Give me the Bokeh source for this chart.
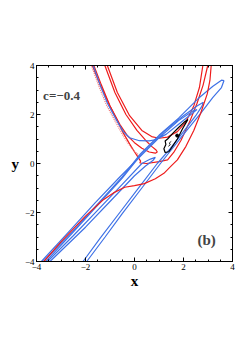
from bokeh.plotting import figure
from bokeh.models import LinearAxis, SingleIntervalTicker, Label
from bokeh.embed import file_html
from bokeh.resources import INLINE

# ---- data (data coordinates) ----
red_c1_x = [-3.7, -3.0, -2.0, -1.3, -0.86, -0.4, 0.0, 0.4, 0.85, 1.2, 1.5, 1.75, 2.1, 2.42, 2.7, 2.97, 3.08, 3.13]
red_c1_y = [-4.0, -3.2, -2.15, -1.5, -1.2, -0.97, -0.9, -0.82, -0.62, -0.4, -0.1, 0.15, 0.7, 1.35, 2.05, 2.84, 3.4, 4.0]

red_c2_x = [-1.11, -0.7, -0.2, 0.3, 0.7, 1.0, 1.35, 1.75, 2.1, 2.42, 2.65, 2.79]
red_c2_y = [4.0, 2.9, 1.95, 1.35, 1.1, 1.03, 1.08, 1.3, 1.7, 2.35, 3.1, 4.0]

red_c3_x = [-1.21, -0.8, -0.35, 0.1, 0.45, 0.7, 0.88, 0.93, 0.85, 0.6, 0.3, 0.0, -0.3, -0.6, -1.0, -1.4, -1.72]
red_c3_y = [4.0, 2.9, 2.0, 1.35, 0.95, 0.7, 0.55, 0.47, 0.42, 0.47, 0.62, 0.85, 1.15, 1.6, 2.35, 3.2, 4.0]

red_c5_x = [-1.66, -1.35, -1.0, -0.7, -0.46, -0.2, 0.05, 0.25, 0.22, 0.5, 1.0, 1.35, 1.6, 1.9, 2.25, 2.55, 2.8, 2.99]
red_c5_y = [4.0, 3.2, 2.35, 1.75, 1.25, 0.8, 0.4, 0.1, 0.02, 0.0, 0.08, 0.15, 0.45, 0.95, 1.7, 2.45, 3.2, 4.0]

red_c6_x = [-1.76, -1.45, -1.15, -0.8, -0.5, -0.25, 0.0, 0.2]
red_c6_y = [4.0, 3.15, 2.4, 1.75, 1.2, 0.8, 0.5, 0.32]

blue_b1_x = [-1.69, -1.4, -1.1, -0.75, -0.46, -0.2, 0.2, 0.6, 0.9, 1.3, 1.8, 2.3, 2.55, 2.4, 1.8, 1.0, 0.3, -0.6, -1.6, -2.6, -3.8]
blue_b1_y = [4.0, 3.2, 2.45, 1.8, 1.3, 1.05, 0.93, 0.92, 0.98, 1.2, 1.6, 2.0, 2.2, 2.15, 1.75, 1.05, 0.35, -0.55, -1.6, -2.7, -4.0]

blue_b2_x = [-3.72, -2.5, -1.5, -0.5, 0.25, 1.0, 1.8, 2.6, 3.2, 3.55, 3.65, 3.55, 3.2, 2.7, 2.05, 1.06, 0.3, -0.5, -1.2, -1.95]
blue_b2_y = [-4.0, -2.75, -1.65, -0.55, 0.4, 1.15, 1.85, 2.65, 3.15, 3.4, 3.38, 3.1, 2.7, 2.05, 1.25, 0.0, -1.0, -2.05, -3.0, -4.0]

blue_b3_x = [-3.62, -2.5, -1.5, -0.5, 0.3, 1.2, 2.0, 2.55, 2.81, 2.76, 2.5, 2.0, 1.45, 0.93, 0.2, -0.6, -1.4, -2.1]
blue_b3_y = [-4.0, -2.8, -1.7, -0.6, 0.4, 1.3, 1.95, 2.35, 2.5, 2.35, 1.95, 1.3, 0.6, 0.0, -0.95, -2.0, -3.05, -4.0]

blue_b4_x = [-3.55, -2.5, -1.5, -0.5, 0.3, 0.65, 0.85, 0.75, 0.45, 0.0, -1.0, -2.0, -3.45]
blue_b4_y = [-4.0, -2.95, -1.9, -0.85, 0.0, 0.18, 0.25, 0.12, -0.1, -0.5, -1.55, -2.6, -4.0]

black_x = [2.18, 1.95, 1.75, 1.55, 1.4, 1.25, 1.2, 1.28, 1.25, 1.35, 1.55, 1.8, 2.02, 2.18]
black_y = [1.8, 1.4, 1.0, 0.7, 0.48, 0.45, 0.6, 0.78, 0.92, 1.0, 1.22, 1.47, 1.68, 1.8]
squig_x = [1.38, 1.46, 1.42, 1.5]
squig_y = [0.7, 0.76, 0.84, 0.9]
dot_x = [1.74]
dot_y = [1.14]

tick_vals = [-4, -2, 0, 2, 4]
tick_labels = ["\u22124", "\u22122", "0", "2", "4"]

RED = "#ee1c1c"
BLUE = "#3f72e6"
SERIF = "Liberation Serif"

p = figure(width=248, height=301, x_range=(-4, 4), y_range=(-4, 4),
           output_backend="svg", toolbar_location=None,
           min_border_left=36, min_border_right=16, min_border_top=65, min_border_bottom=40,
           background_fill_color="white", border_fill_color="white")
p.grid.visible = False
p.outline_line_color = "black"
p.outline_line_width = 1

def style_axis(ax, show_labels):
    ax.ticker = SingleIntervalTicker(interval=2, num_minor_ticks=4)
    ax.major_tick_in = 4
    ax.major_tick_out = 0
    ax.minor_tick_in = 2
    ax.minor_tick_out = 0
    ax.axis_line_color = "black"
    ax.major_tick_line_color = "black"
    ax.minor_tick_line_color = "black"
    ax.major_label_text_font = SERIF
    if show_labels:
        ax.major_label_text_font_size = "9px"
        ax.major_label_text_color = "black"
        ax.major_label_standoff = 2
        ax.major_label_overrides = {v: l for v, l in zip(tick_vals, tick_labels)}
    else:
        ax.major_label_text_font_size = "0px"
        ax.major_label_text_color = None
        ax.major_label_standoff = 0
        ax.axis_label_standoff = 0
        ax.major_label_overrides = {v: "" for v in tick_vals}
    ax.axis_label_text_font = SERIF
    ax.axis_label_text_font_size = "15px"
    ax.axis_label_text_font_style = "bold"
    ax.axis_label_text_color = "black"

xax = p.xaxis[0]
yax = p.yaxis[0]
style_axis(xax, True)
style_axis(yax, True)
xax.axis_label = "x"
xax.axis_label_standoff = 0
yax.axis_label = "y"
yax.axis_label_standoff = 3
if hasattr(yax, "axis_label_orientation"):
    yax.axis_label_orientation = "horizontal"

top_ax = LinearAxis()
right_ax = LinearAxis()
style_axis(top_ax, False)
style_axis(right_ax, False)
p.add_layout(top_ax, "above")
p.add_layout(right_ax, "right")

for xs, ys in [(red_c2_x, red_c2_y), (red_c3_x, red_c3_y), (red_c5_x, red_c5_y)]:
    p.line(xs, ys, line_color=RED, line_width=1.2)
p.line(red_c6_x, red_c6_y, line_color="#f07070", line_width=1.2, line_dash="1 1")

for xs, ys in [(blue_b1_x, blue_b1_y), (blue_b2_x, blue_b2_y), (blue_b3_x, blue_b3_y), (blue_b4_x, blue_b4_y)]:
    p.line(xs, ys, line_color=BLUE, line_width=1.2)

p.line(red_c1_x, red_c1_y, line_color=RED, line_width=1.2)

p.line(black_x, black_y, line_color="black", line_width=1.2)
p.line(squig_x, squig_y, line_color="black", line_width=0.8)
p.scatter(dot_x, dot_y, size=3, color="black")

p.add_layout(Label(x=-3.73, y=2.78, text="c=\u22120.4", text_font=SERIF,
                   text_font_size="13px", text_font_style="bold", text_baseline="alphabetic"))
p.add_layout(Label(x=2.57, y=-3.14, text="(b)", text_font=SERIF,
                   text_font_size="15px", text_font_style="bold", text_baseline="alphabetic"))

open("out.html", "w").write(file_html(p, INLINE))
